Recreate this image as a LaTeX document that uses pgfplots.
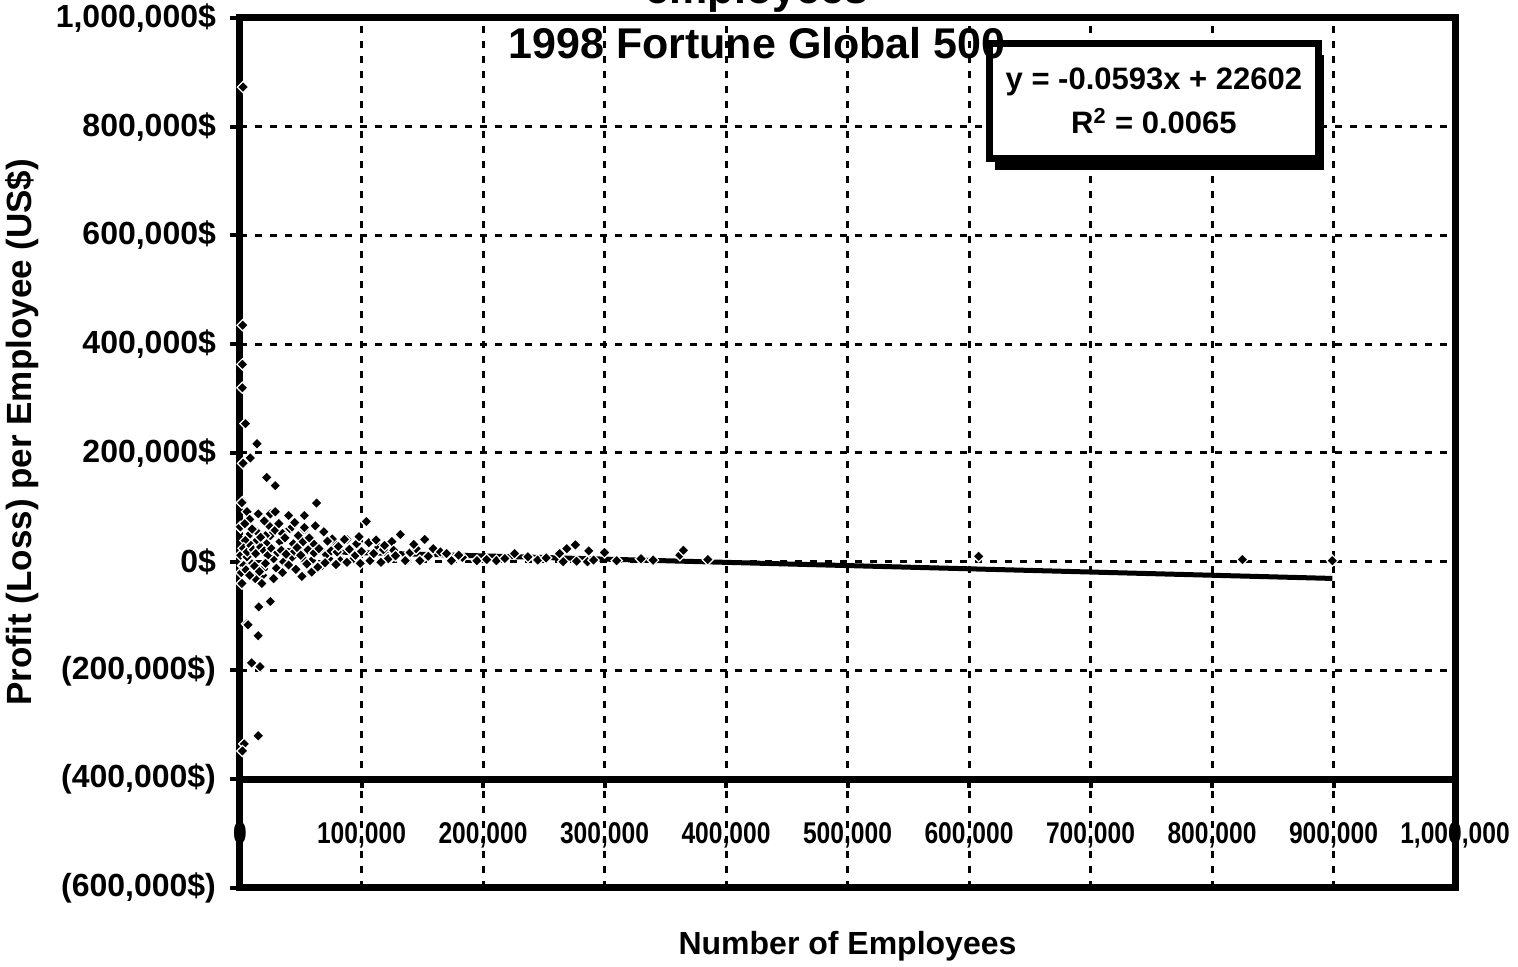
\documentclass[border=0pt]{standalone}
\usepackage{fontspec}
\setmainfont{Liberation Sans}
\newfontfamily\narrowfont[FakeStretch=0.82]{Liberation Sans}
\usepackage{pgfplots}
\pgfplotsset{compat=1.18}
\usetikzlibrary{shadows}
\pgfplotstableread{
x y
2500 873000
2200 435000
2000 363000
2000 320000
4500 254000
14000 217000
8500 191000
2500 181000
22000 155000
29000 140000
2500 110000
63000 108000
25000 88000
29000 92000
40000 85000
53000 85000
500 63000
8000 77000
14000 53000
25000 48000
41000 61000
53000 59000
69000 55000
88000 41000
104000 74000
133000 50000
151000 41000
2500 -7000
9600 -4000
19000 -11000
27000 7000
42000 9000
52000 -26000
59000 -20000
11500 -31000
18700 -25000
27000 -29000
2500 -40000
15000 -83000
24000 -74000
5800 -114000
15000 -136000
9600 -186000
16500 -193000
15000 -320000
3500 -335000
2000 -348000
78000 33000
86000 41000
106000 35000
115000 26000
126000 22000
132000 50000
152000 41000
159000 24000
165000 18000
84000 2000
93000 5500
108000 2000
123000 5500
137000 2000
148000 2000
174000 2000
195000 2000
211000 2000
226000 15000
237000 9000
263000 15000
269000 24000
276000 31000
287000 20000
266000 0
277000 1000
286000 0
300000 17000
330000 5500
362000 12000
365000 21000
385000 4000
608000 10000
825000 4000
899000 2000
183000 8000
203000 4000
218000 6000
245000 3000
252000 7000
291000 3000
310000 2000
340000 3000
180000 12000
170000 15000
1600 108600
5800 92000
15000 88000
8000 78000
300 64000
14000 55000
23600 67000
29000 58000
43000 64000
53000 63000
7000 48000
21000 48000
35000 52000
48000 48000
4400 39000
12600 36000
22000 33000
33000 37000
44000 33000
52000 37000
60500 33000
76000 42000
96000 33000
114000 27000
125000 37000
126500 21000
137500 2000
500 12000
5800 9000
9900 -4000
19500 -13000
27700 5500
27700 -31000
12600 -31000
36000 0
43000 8500
52000 5500
59000 2000
67500 -7000
51000 -27000
59000 -19000
73000 5500
82500 2000
93500 5500
107000 2000
122000 5500
136000 2000
1600 -40000
3000 -7000
18000 -40000
25000 -73000
15400 -83000
6600 -116000
3000 25000
6000 18000
9000 30000
11000 22000
13000 15000
17000 27000
20000 20000
23000 12000
26000 24000
31000 17000
34000 21000
38000 14000
45000 19000
47000 26000
50000 12000
56000 22000
61000 16000
65000 24000
71000 13000
75000 20000
80000 18000
90000 23000
95000 12000
100000 19000
110000 15000
118000 22000
128000 11000
140000 17000
145000 24000
155000 10000
4000 70000
10000 60000
17000 45000
20000 75000
32000 70000
37000 44000
45000 72000
57000 44000
62000 66000
72000 38000
81000 28000
98000 46000
112000 40000
119000 30000
143000 32000
1000 -20000
5000 -15000
8000 -25000
12000 -8000
16000 -18000
21000 -3000
30000 -12000
35000 -20000
40000 -6000
46000 -14000
55000 -4000
64000 -10000
70000 -2000
79000 -5000
88000 -1000
99000 -3000
116000 -1000
}\pointdata
\begin{document}
\begin{tikzpicture}
\useasboundingbox (-120pt,-39.5pt) rectangle (639pt,444pt);
\begin{axis}[
  at={(0,0)}, anchor=south west,
  scale only axis, width=607.5pt, height=435pt,
  xmin=0, xmax=1000000, ymin=-600000, ymax=1000000,
  clip=false,
  axis line style={line width=3.5pt},
  xtick={0,100000,200000,300000,400000,500000,600000,700000,800000,900000,1000000},
  xticklabels={0,{100,000},{200,000},{300,000},{400,000},{500,000},{600,000},{700,000},{800,000},{900,000},{1,000,000}},
  ytick={-600000,-400000,-200000,0,200000,400000,600000,800000,1000000},
  yticklabels={{(600,000\$)},{(400,000\$)},{(200,000\$)},0\$,{200,000\$},{400,000\$},{600,000\$},{800,000\$},{1,000,000\$}},
  scaled ticks=false,
  grid=major,
  major grid style={black, line width=1.5pt, dash pattern=on 3.5pt off 4pt},
  xtick style={draw=none},
  ytick style={black, line width=2pt},
  ytick pos=left,
  tick align=outside,
  major tick length=5pt,
  yticklabel style={font=\fontsize{16}{19}\selectfont\bfseries, xshift=-3.5pt},
  xticklabel style={font=\narrowfont\fontsize{15}{18}\selectfont\bfseries, anchor=base, yshift=27.5pt},
]
\draw[line width=3.5pt] (axis cs:0,-400000) -- (axis cs:1000000,-400000);
\pgfplotsinvokeforeach{1,...,9}{\draw[line width=2pt] (axis cs:#100000,-400000) -- ++(0pt,-4.5pt);}
\addplot[only marks, mark=square*, mark size=2pt,
  mark options={rotate=45, fill=black, draw=white, line width=0.6pt}] table[x=x,y=y] {\pointdata};
\addplot[line width=2.5pt, black] coordinates {(0,22602) (899000,-30709)};
\node[draw, line width=3.5pt, fill=white, minimum width=164.5pt, minimum height=57.5pt,
  align=center, font=\fontsize{15.5}{22}\selectfont\bfseries,
  drop shadow={shadow xshift=3pt, shadow yshift=-5.5pt, fill=black, opacity=1}]
  at (axis cs:752200,847100) {y = -0.0593x + 22602\\R\textsuperscript{2} = 0.0065};
\node[anchor=base, font=\fontsize{21.5}{26}\selectfont\bfseries] at (rel axis cs:0.4255,1.0172) {employees};
\node[anchor=base, font=\fontsize{21.5}{26}\selectfont\bfseries] at (rel axis cs:0.4255,0.954) {1998 Fortune Global 500};
\node[rotate=90, font=\fontsize{17.5}{21}\selectfont\bfseries] at (rel axis cs:-0.1794,0.524) {Profit (Loss) per Employee (US\$)};
\node[anchor=base, font=\fontsize{16}{19}\selectfont\bfseries] at (rel axis cs:0.5,-0.077) {Number of Employees};
\end{axis}
\end{tikzpicture}
\end{document}
